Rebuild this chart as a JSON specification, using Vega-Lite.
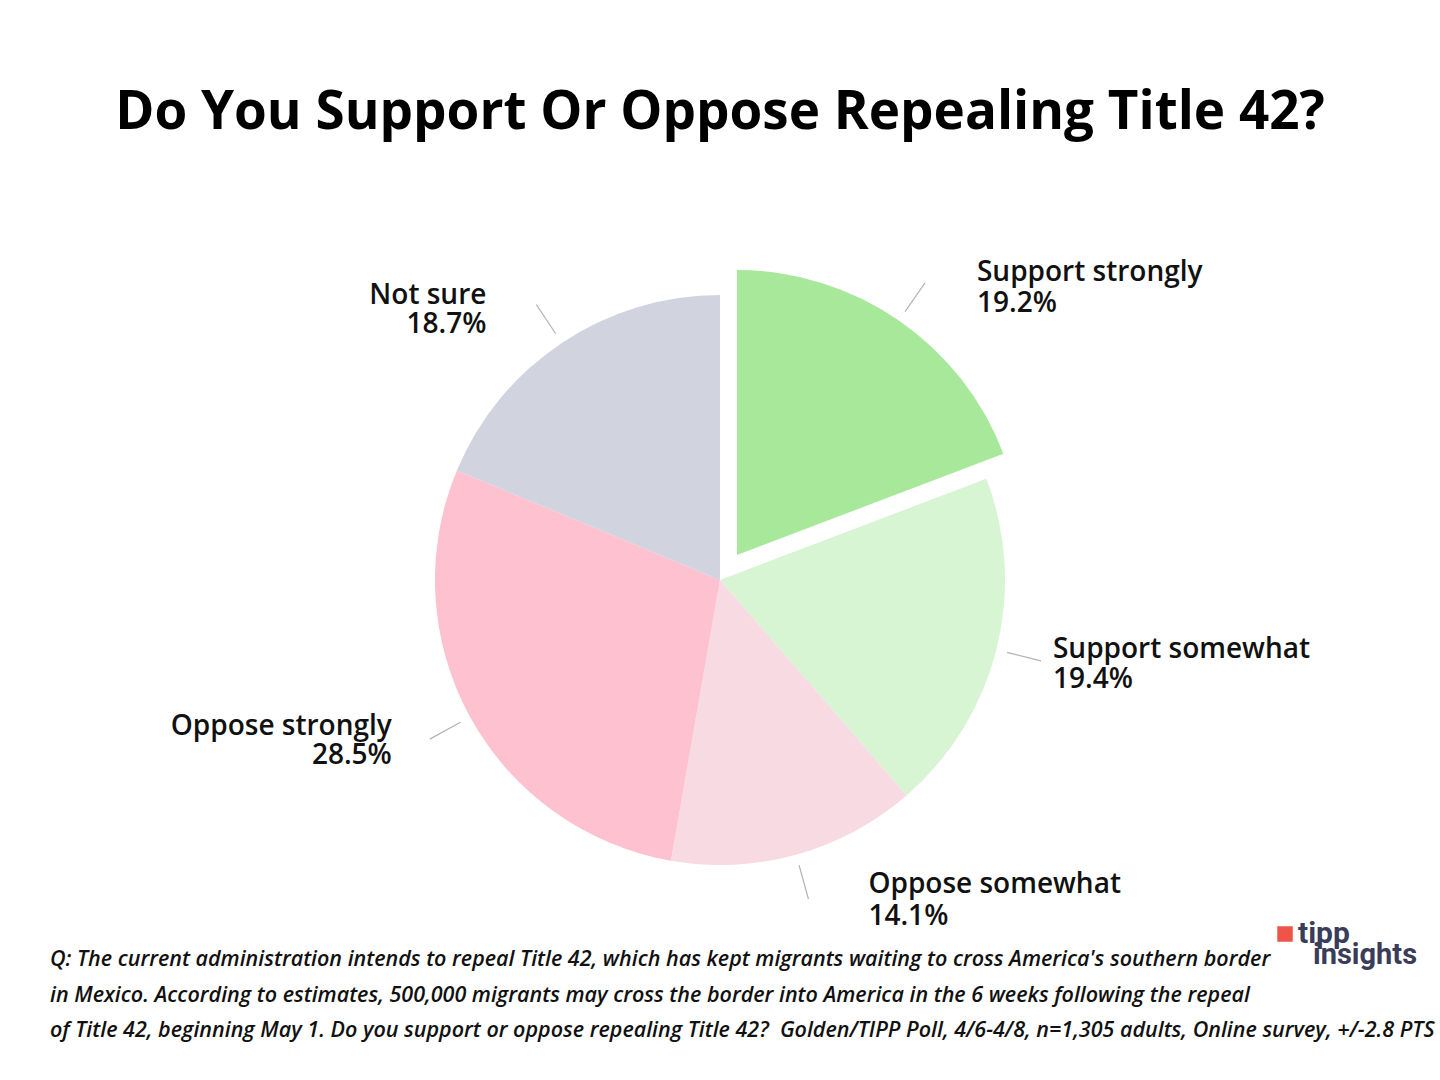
{
"$schema": "https://vega.github.io/schema/vega-lite/v6.json",
"width": 1440, "height": 1080,
"autosize": {"type": "none"},
"padding": 0,
"background": "white",
"config": {"view": {"stroke": null}},
"title": {"text": "Do You Support Or Oppose Repealing Title 42?", "font": "Open Sans", "fontSize": 53, "fontWeight": "bold", "color": "#000000", "anchor": "middle", "frame": "group", "offset": 0, "baseline": "alphabetic", "dy": 182},
"datasets": {
  "poll": [
    {"answer": "Support strongly", "share": 0.192, "order": 1},
    {"answer": "Support somewhat", "share": 0.194, "order": 2},
    {"answer": "Oppose somewhat", "share": 0.141, "order": 3},
    {"answer": "Oppose strongly", "share": 0.285, "order": 4},
    {"answer": "Not sure", "share": 0.187, "order": 5}
  ]
},
"data": {"name": "poll"},
"encoding": {
  "x": {"datum": 0, "type": "quantitative", "scale": {"domain": [-2.5263, 2.5263], "nice": false, "zero": false}, "axis": null},
  "y": {"datum": 0, "type": "quantitative", "scale": {"domain": [-1.7544, 2.0351], "nice": false, "zero": false}, "axis": null}
},
"layer": [
  {
    "mark": {"type": "arc", "outerRadius": 285},
    "encoding": {
      "theta": {"field": "share", "type": "quantitative", "stack": true, "scale": {"domain": [0, 0.999]}},
      "order": {"field": "order", "type": "quantitative"},
      "color": {"field": "answer", "type": "nominal", "legend": null, "scale": {"domain": ["Support strongly", "Support somewhat", "Oppose somewhat", "Oppose strongly", "Not sure"], "range": ["#a8e89b", "#d7f4d3", "#f8dae2", "#fdc1d0", "#d1d3df"]}},
      "opacity": {"condition": {"test": "datum.answer === 'Support strongly'", "value": 0}, "value": 1}
    }
  },
  {
    "mark": {"type": "arc", "outerRadius": 285, "xOffset": 17, "yOffset": -25},
    "encoding": {
      "theta": {"field": "share", "type": "quantitative", "stack": true, "scale": {"domain": [0, 0.999]}},
      "order": {"field": "order", "type": "quantitative"},
      "color": {"field": "answer", "type": "nominal", "legend": null},
      "opacity": {"condition": {"test": "datum.answer === 'Support strongly'", "value": 1}, "value": 0}
    }
  },
  {
    "transform": [
      {"stack": "share", "groupby": [], "sort": [{"field": "order", "order": "ascending"}], "as": ["s0", "s1"]},
      {"fold": ["s0", "s1"], "as": ["edge", "ang"]},
      {"aggregate": [{"op": "mean", "field": "ang", "as": "mid"}], "groupby": ["answer", "share", "order"]}
    ],
    "encoding": {"theta": {"field": "mid", "type": "quantitative", "stack": null, "scale": {"domain": [0, 0.999]}}},
    "layer": [
      {
        "transform": [{"filter": "datum.answer !== 'Support strongly'"}],
        "mark": {"type": "arc", "radius": 331, "radius2": 296, "filled": false, "stroke": "#b4b4b4", "strokeWidth": 1.2},
        "encoding": {"theta2": {"field": "mid"}}
      },
      {
        "transform": [{"filter": "datum.answer === 'Support strongly'"}],
        "mark": {"type": "arc", "radius": 361, "radius2": 326, "filled": false, "stroke": "#b4b4b4", "strokeWidth": 1.2},
        "encoding": {"theta2": {"field": "mid"}}
      },
      {
        "transform": [{"filter": "datum.answer === 'Support strongly'"}],
        "layer": [
          {"mark": {"type": "text", "radius": 361, "align": "left", "baseline": "alphabetic", "dx": 52, "dy": -2, "font": "Open Sans", "fontSize": 28, "fontWeight": 600, "color": "#111111"}, "encoding": {"text": {"field": "answer"}}},
          {"mark": {"type": "text", "radius": 361, "align": "left", "baseline": "alphabetic", "dx": 52, "dy": 29, "font": "Open Sans", "fontSize": 28, "fontWeight": 600, "color": "#111111"}, "encoding": {"text": {"field": "share", "type": "quantitative", "format": ".1%"}}}
        ]
      },
      {
        "transform": [{"filter": "datum.answer === 'Support somewhat'"}],
        "layer": [
          {"mark": {"type": "text", "radius": 331, "align": "left", "baseline": "alphabetic", "dx": 12, "dy": -3, "font": "Open Sans", "fontSize": 28, "fontWeight": 600, "color": "#111111"}, "encoding": {"text": {"field": "answer"}}},
          {"mark": {"type": "text", "radius": 331, "align": "left", "baseline": "alphabetic", "dx": 12, "dy": 27, "font": "Open Sans", "fontSize": 28, "fontWeight": 600, "color": "#111111"}, "encoding": {"text": {"field": "share", "type": "quantitative", "format": ".1%"}}}
        ]
      },
      {
        "transform": [{"filter": "datum.answer === 'Oppose somewhat'"}],
        "layer": [
          {"mark": {"type": "text", "radius": 331, "align": "left", "baseline": "alphabetic", "dx": 60, "dy": -6, "font": "Open Sans", "fontSize": 28, "fontWeight": 600, "color": "#111111"}, "encoding": {"text": {"field": "answer"}}},
          {"mark": {"type": "text", "radius": 331, "align": "left", "baseline": "alphabetic", "dx": 60, "dy": 26, "font": "Open Sans", "fontSize": 28, "fontWeight": 600, "color": "#111111"}, "encoding": {"text": {"field": "share", "type": "quantitative", "format": ".1%"}}}
        ]
      },
      {
        "transform": [{"filter": "datum.answer === 'Oppose strongly'"}],
        "layer": [
          {"mark": {"type": "text", "radius": 331, "align": "right", "baseline": "alphabetic", "dx": -38, "dy": -4, "font": "Open Sans", "fontSize": 28, "fontWeight": 600, "color": "#111111"}, "encoding": {"text": {"field": "answer"}}},
          {"mark": {"type": "text", "radius": 331, "align": "right", "baseline": "alphabetic", "dx": -38, "dy": 25, "font": "Open Sans", "fontSize": 28, "fontWeight": 600, "color": "#111111"}, "encoding": {"text": {"field": "share", "type": "quantitative", "format": ".1%"}}}
        ]
      },
      {
        "transform": [{"filter": "datum.answer === 'Not sure'"}],
        "layer": [
          {"mark": {"type": "text", "radius": 331, "align": "right", "baseline": "alphabetic", "dx": -50, "dy": -1, "font": "Open Sans", "fontSize": 28, "fontWeight": 600, "color": "#111111"}, "encoding": {"text": {"field": "answer"}}},
          {"mark": {"type": "text", "radius": 331, "align": "right", "baseline": "alphabetic", "dx": -50, "dy": 28, "font": "Open Sans", "fontSize": 28, "fontWeight": 600, "color": "#111111"}, "encoding": {"text": {"field": "share", "type": "quantitative", "format": ".1%"}}}
        ]
      }
    ]
  },
  {
    "data": {"values": [{}]},
    "mark": {"type": "text", "align": "left", "baseline": "alphabetic", "font": "Open Sans", "fontStyle": "italic", "fontWeight": 600, "fontSize": 21.5, "lineHeight": 35.5, "color": "#111111"},
    "encoding": {
      "x": {"datum": -2.3509, "type": "quantitative"},
      "y": {"datum": -1.3544, "type": "quantitative"},
      "text": {"value": ["Q: The current administration intends to repeal Title 42, which has kept migrants waiting to cross America's southern border", "in Mexico. According to estimates, 500,000 migrants may cross the border into America in the 6 weeks following the repeal", "of Title 42, beginning May 1. Do you support or oppose repealing Title 42?\u00a0\u00a0Golden/TIPP Poll, 4/6-4/8, n=1,305 adults, Online survey, +/-2.8 PTS"]}
    }
  },
  {
    "data": {"values": [{}]},
    "mark": {"type": "text", "align": "left", "baseline": "alphabetic", "font": "Roboto", "fontWeight": "bold", "fontSize": 30, "color": "#3a3c5a"},
    "encoding": {
      "x": {"datum": 2.028, "type": "quantitative"},
      "y": {"datum": -1.2737, "type": "quantitative"},
      "text": {"value": "tipp"}
    }
  },
  {
    "data": {"values": [{}]},
    "mark": {"type": "text", "align": "left", "baseline": "alphabetic", "font": "Roboto", "fontWeight": "bold", "fontSize": 29, "color": "#3a3c5a"},
    "encoding": {
      "x": {"datum": 2.0807, "type": "quantitative"},
      "y": {"datum": -1.3474, "type": "quantitative"},
      "text": {"value": "insights"}
    }
  },
  {
    "data": {"values": [{}]},
    "mark": {"type": "point", "shape": "square", "filled": true, "size": 240, "color": "#ee5548", "opacity": 1},
    "encoding": {
      "x": {"datum": 1.9825, "type": "quantitative"},
      "y": {"datum": -1.2421, "type": "quantitative"}
    }
  }
]
}
